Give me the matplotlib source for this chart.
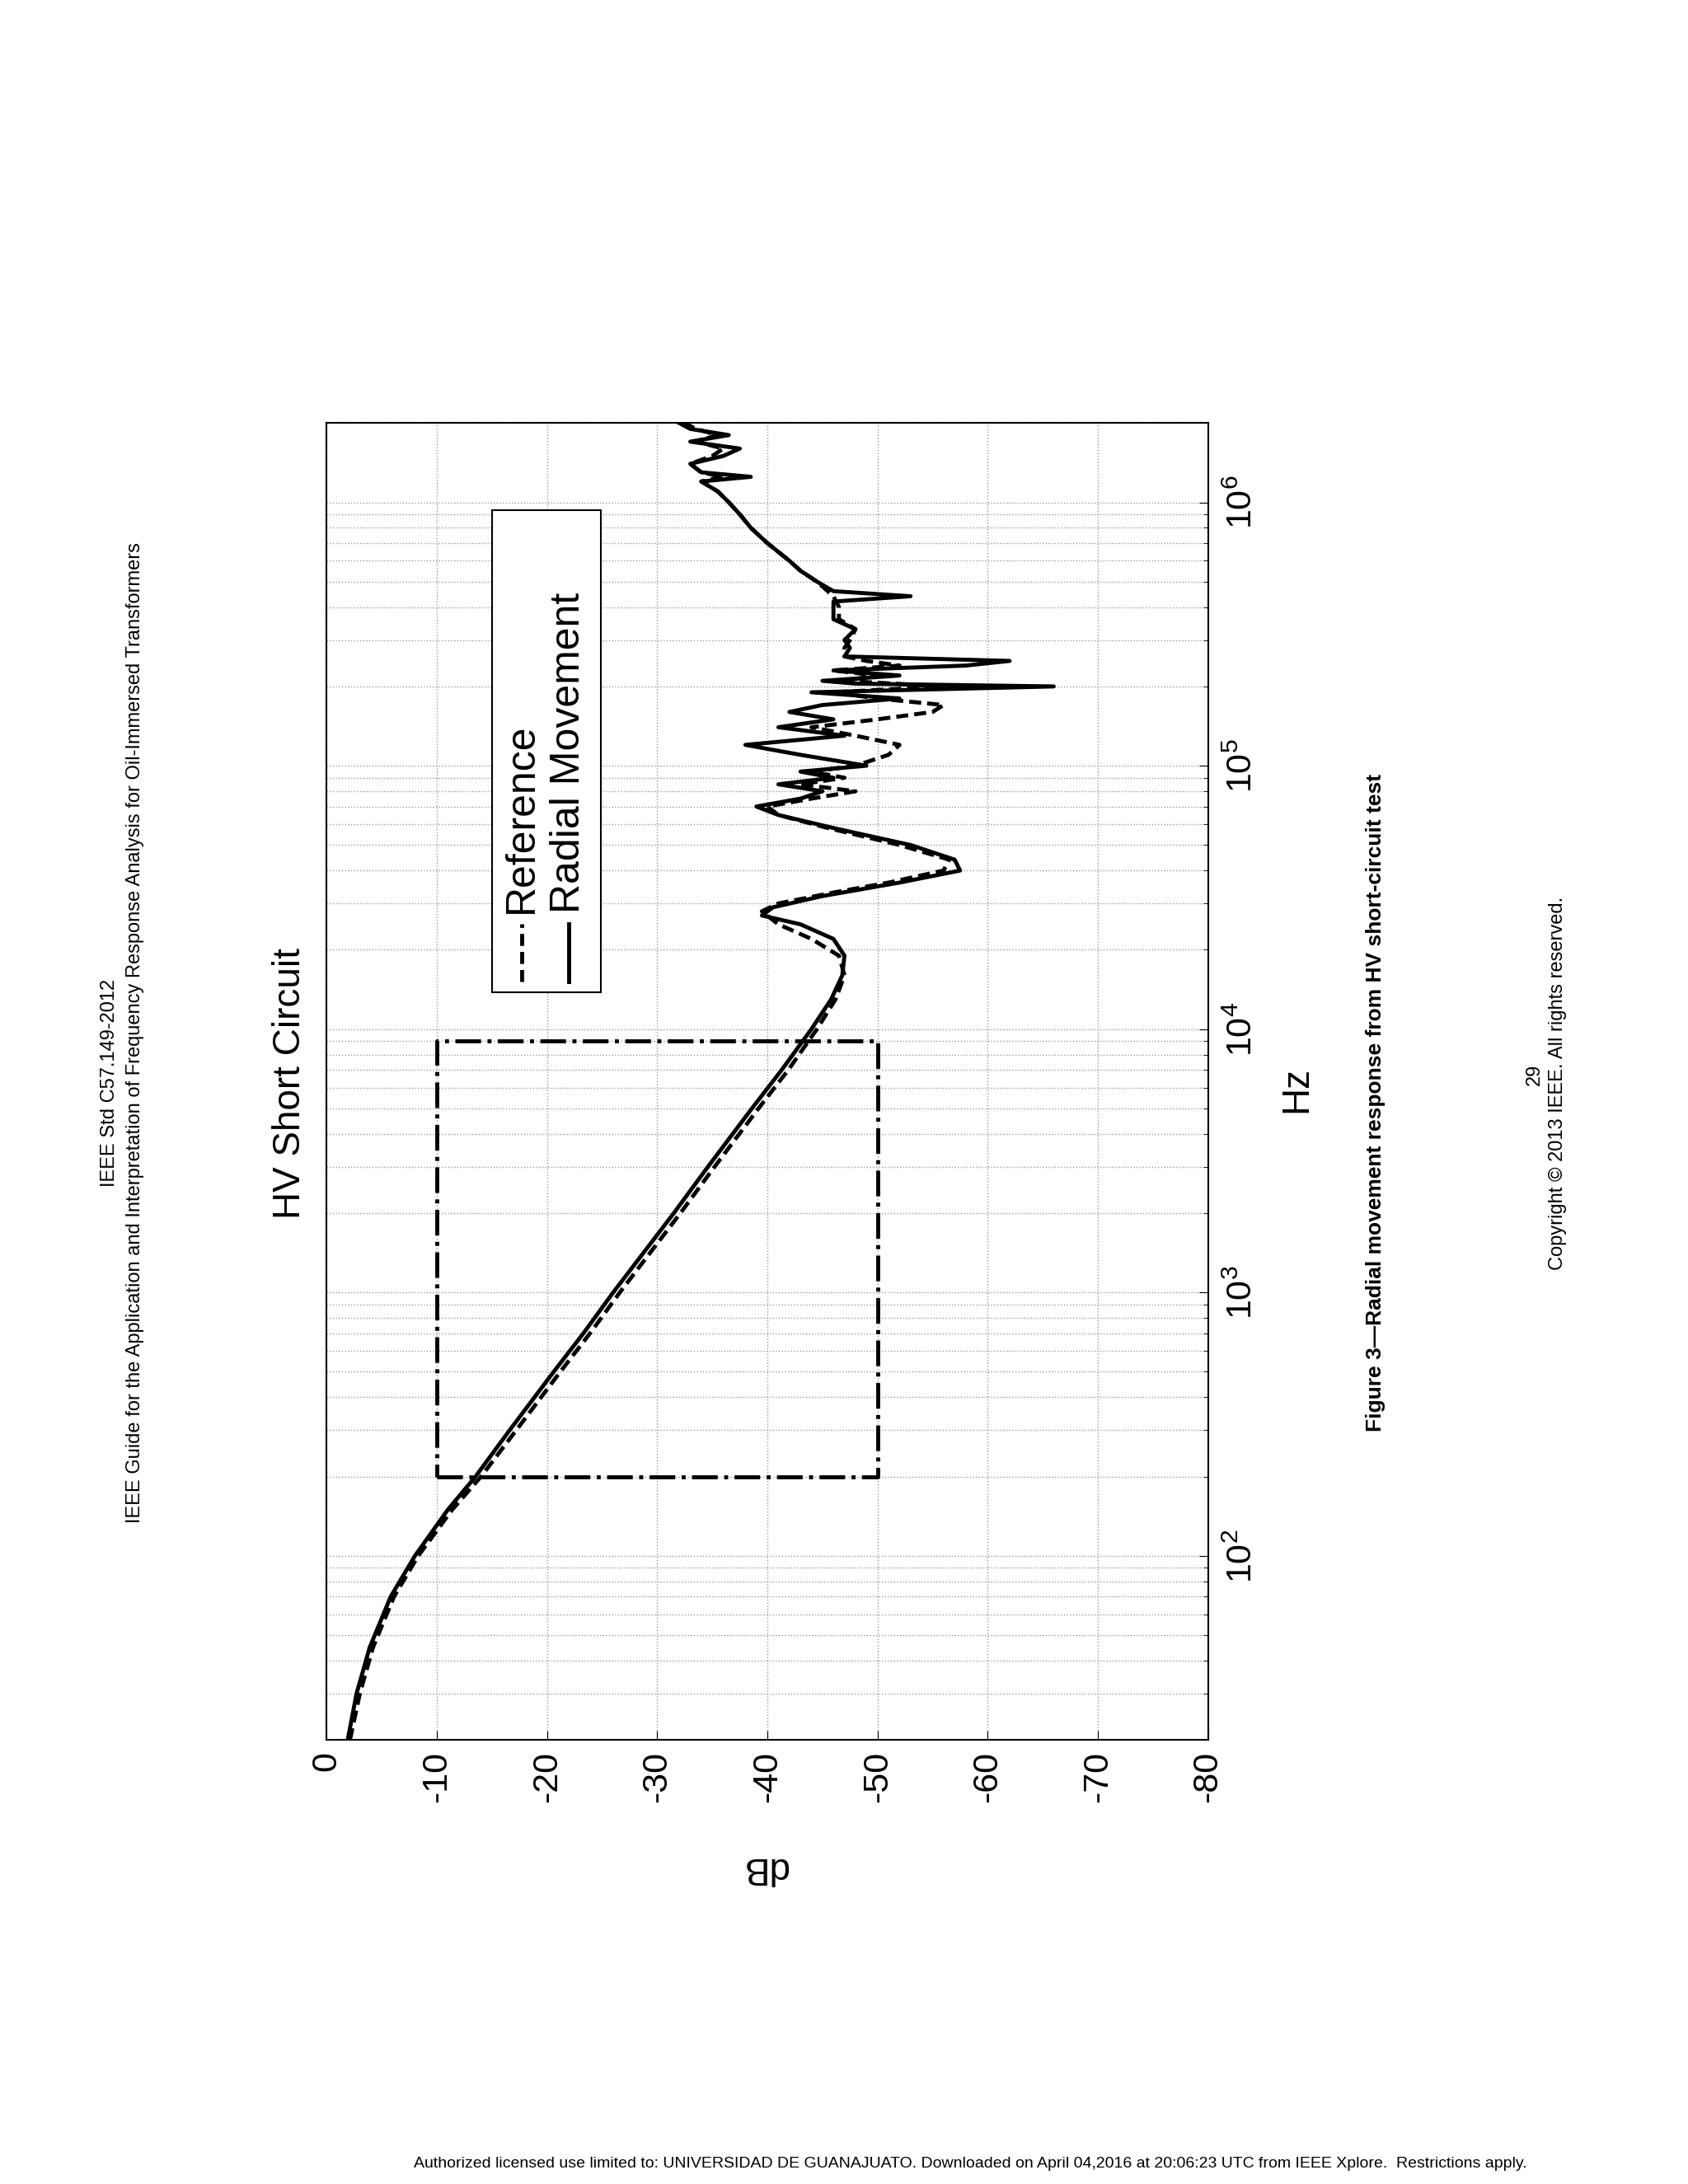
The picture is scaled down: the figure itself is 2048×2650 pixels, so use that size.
import matplotlib
matplotlib.use("Agg")
import matplotlib.pyplot as plt
import numpy as np

freq_rm = [20,30,45,70,100,150,200,300,500,700,1000,2000,3000,5000,7000,10000,13000,16000,19000,22000,25000,27000,29000,32000,36000,40000,44000,50000,58000,65000,70000,75000,80000,85000,90000,95000,100000,110000,120000,130000,140000,150000,160000,170000,180000,190000,200000,205000,210000,220000,230000,240000,250000,260000,280000,300000,330000,360000,400000,420000,440000,460000,500000,550000,600000,700000,800000,900000,1000000,1100000,1200000,1250000,1300000,1400000,1500000,1600000,1700000,1800000,1900000,2000000]
db_rm = [-1.9,-2.7,-3.9,-5.8,-8,-11,-13.5,-16.6,-20.6,-23.3,-26,-31.5,-34.6,-38.6,-41.3,-44,-45.8,-46.8,-47,-46,-43,-39.5,-40.5,-45,-52,-57.5,-57,-53,-46,-41,-39,-43,-45,-41,-46,-43,-49,-43,-38,-47,-41,-46,-42,-45,-52,-44,-66,-48,-45,-52,-46,-58,-62,-47,-47.5,-47,-48,-46,-46,-46,-53,-46,-44.5,-43,-42,-40,-38.5,-37.5,-36.5,-35.5,-34,-38.5,-34,-33,-36,-37.5,-33,-36.5,-33,-32]

freq_ref = [20,30,45,70,100,150,200,300,500,700,1000,2000,3000,5000,7000,10000,13000,16000,19000,22000,25000,28000,30000,33000,36000,40000,44000,50000,58000,65000,70000,75000,80000,85000,90000,95000,100000,110000,120000,130000,140000,150000,160000,170000,180000,190000,200000,210000,220000,230000,240000,250000,260000,280000,300000,330000,360000,400000,440000,500000,550000,600000,700000,800000,900000,1000000,1100000,1200000,1250000,1300000,1400000,1500000,1600000,1700000,1800000,1900000,2000000]
db_ref = [-2.1,-3.0,-4.2,-6.1,-8.3,-11.4,-14.0,-17.2,-21.2,-23.9,-26.6,-32.1,-35.2,-39.2,-41.9,-44.5,-46.2,-47,-46.5,-44,-41,-39.5,-41,-46,-51,-56,-56.5,-52,-45.5,-41,-40,-44,-48,-43,-47,-44,-48,-51,-52,-48,-44,-50,-55,-56,-50,-46,-56,-47,-50,-46,-52,-49,-47,-47,-47.5,-48,-46.5,-46.5,-46,-44.5,-43,-42,-40,-38.5,-37.5,-36.5,-35.5,-34,-36,-34,-33,-35,-36,-33.5,-35.5,-33.5,-32.5]

box_db = [-10, -50]
box_hz = [200, 9000]
db_ticks = [0, -10, -20, -30, -40, -50, -60, -70, -80]

plt.rcParams['font.family'] = ['Liberation Sans', 'DejaVu Sans']
fig = plt.figure(figsize=(20.48, 26.5), dpi=100)
ax = fig.add_axes([0.1936, 0.2033, 0.522, 0.603])

ax.plot(db_ref, freq_ref, 'k--', lw=3.5, dashes=(3, 1.5))
ax.plot(db_rm, freq_rm, 'k-', lw=3.5)
bx = [box_db[0], box_db[1], box_db[1], box_db[0], box_db[0]]
by = [box_hz[0], box_hz[0], box_hz[1], box_hz[1], box_hz[0]]
ax.plot(bx, by, 'k-.', lw=3.5)

ax.set_yscale('log')
ax.set_ylim(20, 2e6)
ax.set_xlim(0, -80)
ax.set_xticks(db_ticks)
ax.set_xticklabels([str(t) for t in db_ticks], rotation=90, fontsize=31)
ax.yaxis.tick_right()
ax.tick_params(axis='y', which='major', labelsize=31, labelrotation=90, direction='in', length=8, pad=16)
ax.tick_params(axis='y', which='minor', direction='in', length=4)
ax.tick_params(axis='x', direction='in', length=8, pad=10)
for lab in ax.get_yticklabels():
    lab.set_va('center')
ax.grid(True, which='both', ls=':', color='#999999', lw=1)
for s in ax.spines.values():
    s.set_linewidth(1.5)

ax.add_patch(plt.Rectangle((0.188, 0.568), 0.123, 0.366, transform=ax.transAxes,
                           fill=True, fc='white', ec='black', lw=1.5, zorder=5))
ax.plot([0.221, 0.221], [0.576, 0.620], 'k--', lw=3.5, dashes=(3, 1.5), transform=ax.transAxes, zorder=6)
ax.plot([0.275, 0.275], [0.576, 0.620], 'k-', lw=3.5, transform=ax.transAxes, zorder=6)
ax.text(0.221, 0.628, 'Reference', rotation=90, transform=ax.transAxes, fontsize=36,
        ha='center', va='bottom', zorder=6)
ax.text(0.275, 0.628, 'Radial Movement', rotation=90, transform=ax.transAxes, fontsize=36,
        ha='center', va='bottom', zorder=6)

fig.text(0.172, 0.504, 'HV Short Circuit', rotation=90, fontsize=33, ha='center', va='center')
fig.text(0.768, 0.501, 'Hz', rotation=90, fontsize=33, ha='center', va='center')
fig.text(0.453, 0.145, 'dB', rotation=180, fontsize=33, ha='center', va='center')

fig.text(0.065, 0.504, 'IEEE Std C57.149-2012', rotation=90, fontsize=17, ha='center', va='center')
fig.text(0.080, 0.527, 'IEEE Guide for the Application and Interpretation of Frequency Response Analysis for Oil-Immersed Transformers',
         rotation=90, fontsize=17, ha='center', va='center')
fig.text(0.815, 0.495, 'Figure 3\u2014Radial movement response from HV short-circuit test', rotation=90,
         fontsize=19, fontweight='bold', ha='center', va='center')
fig.text(0.909, 0.508, '29', rotation=90, fontsize=17, ha='center', va='center')
fig.text(0.923, 0.504, 'Copyright \u00a9 2013 IEEE. All rights reserved.', rotation=90, fontsize=17, ha='center', va='center')
fig.text(0.245, 0.006, 'Authorized licensed use limited to: UNIVERSIDAD DE GUANAJUATO. Downloaded on April 04,2016 at 20:06:23 UTC from IEEE Xplore.  Restrictions apply.',
         fontsize=14, ha='left', va='bottom')

fig.savefig('out.png', dpi=100)
